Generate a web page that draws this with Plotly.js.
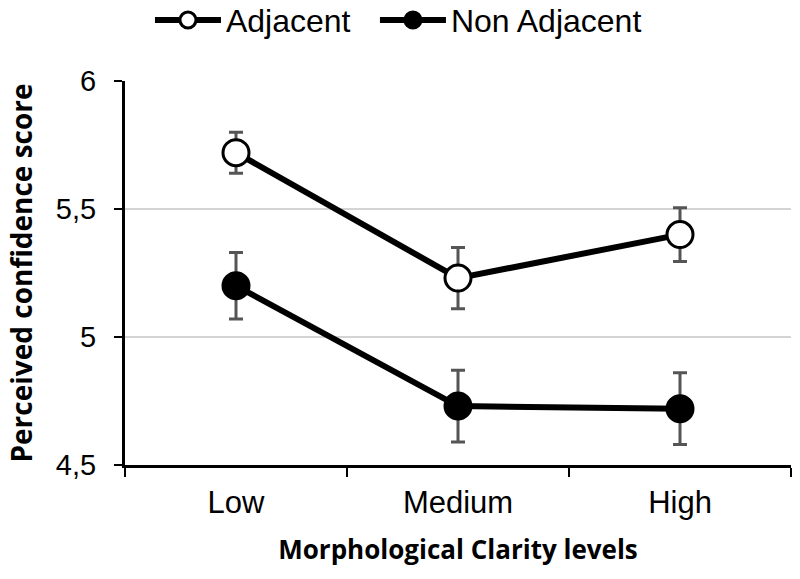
<!DOCTYPE html>
<html>
<head>
<meta charset="utf-8">
<script src="https://cdn.plot.ly/plotly-3.0.1.min.js"></script>
<style>html,body{margin:0;padding:0;background:#fff;}#chart{width:800px;height:579px;}</style>
</head>
<body>
<div id="chart"></div>
<script>
var categories = ["Low", "Medium", "High"];
var adjacentMeans = [5.72, 5.23, 5.40];
var adjacentErrors = [0.08, 0.12, 0.105];
var nonAdjacentMeans = [5.20, 4.73, 4.72];
var nonAdjacentErrors = [0.13, 0.14, 0.14];
var yTickValues = [4.5, 5, 5.5, 6];
var yTickLabels = ["4,5", "5", "5,5", "6"];

function series(name, y, err, fill, legendId) {
  return {
    type: "scatter", mode: "lines+markers", name: name, legend: legendId,
    x: categories, y: y,
    line: {color: "#000", width: 6},
    marker: {symbol: "circle", size: 26, color: fill, line: {color: "#000", width: 3}},
    error_y: {type: "data", array: err, visible: true, color: "#555", thickness: 3, width: 7}
  };
}

var data = [
  series("Adjacent", adjacentMeans, adjacentErrors, "#fff", "legend"),
  series("Non Adjacent", nonAdjacentMeans, nonAdjacentErrors, "#000", "legend2")
];

var legendFont = {size: 32, family: "Liberation Sans, Arial, sans-serif"};
var layout = {
  width: 800, height: 579,
  margin: {l: 125, r: 9, t: 81, b: 114, autoexpand: false},
  paper_bgcolor: "#fff", plot_bgcolor: "#fff",
  font: {family: "Liberation Sans, Arial, sans-serif", color: "#000"},
  showlegend: true,
  legend: {orientation: "h", xref: "paper", x: 0.0375, xanchor: "left", yref: "paper", y: 1.23, yanchor: "top",
           font: legendFont, itemwidth: 66},
  legend2: {orientation: "h", xref: "paper", x: 0.3753, xanchor: "left", yref: "paper", y: 1.23, yanchor: "top",
           font: legendFont, itemwidth: 66},
  xaxis: {
    type: "category", range: [-0.5, 2.5], automargin: false,
    showline: true, linecolor: "#000", linewidth: 3,
    ticks: "outside", tickson: "boundaries", ticklen: 9, tickwidth: 2, tickcolor: "#000",
    showgrid: false, zeroline: false,
    tickfont: {size: 31}, ticklabelstandoff: 8,
    title: {text: "<b>Morphological Clarity levels</b>", font: {size: 26, family: "Open Sans, sans-serif"}, standoff: 22}
  },
  yaxis: {
    range: [4.5, 6], tickvals: yTickValues, ticktext: yTickLabels, automargin: false,
    showline: true, linecolor: "#000", linewidth: 3,
    ticks: "outside", ticklen: 8, tickwidth: 2, tickcolor: "#000",
    showgrid: true, gridcolor: "#d4d4d4", gridwidth: 2, zeroline: false,
    tickfont: {size: 29}, ticklabelstandoff: 12,
    title: {text: "<b>Perceived confidence score</b>", font: {size: 28, family: "Open Sans, sans-serif"}, standoff: 16}
  }
};

Plotly.newPlot("chart", data, layout, {displayModeBar: false, staticPlot: true});
</script>
</body>
</html>
